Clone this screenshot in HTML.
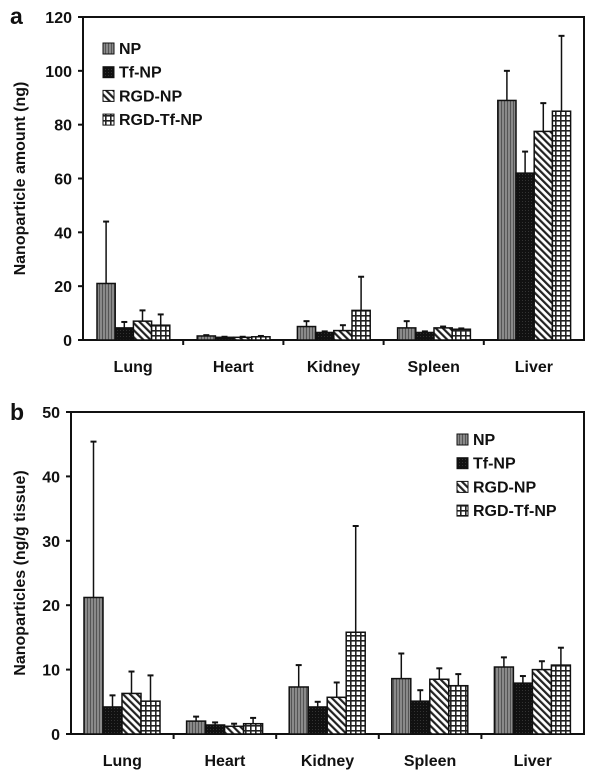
<!DOCTYPE html>
<html><head><meta charset="utf-8"><style>
body{margin:0;background:#fff}
svg text{font-family:"Liberation Sans",Arial,sans-serif;font-weight:bold;fill:#111}
</style></head><body>
<svg id="chart" width="600" height="777" xmlns="http://www.w3.org/2000/svg">
<defs>
<pattern id="pNP" width="3" height="4" patternUnits="userSpaceOnUse"><rect width="3" height="4" fill="#8a8a8a"/><rect width="1" height="4" fill="#555"/></pattern>
<pattern id="pTf" width="3" height="3" patternUnits="userSpaceOnUse"><rect width="3" height="3" fill="#111"/><rect width="1" height="1" fill="#333"/></pattern>
<pattern id="pRGD" width="5" height="5" patternUnits="userSpaceOnUse" patternTransform="rotate(-45)"><rect width="5" height="5" fill="#fff"/><rect width="2.2" height="5" fill="#222"/></pattern>
<pattern id="pRT" width="5" height="5" patternUnits="userSpaceOnUse"><rect width="5" height="5" fill="#fff"/><rect width="5" height="1.6" fill="#222"/><rect width="1.6" height="5" fill="#222"/></pattern>
</defs>
<g id="pa"></g><g id="pb"></g>
</svg>
<script>
const categories=["Lung","Heart","Kidney","Spleen","Liver"];
const seriesNames=["NP","Tf-NP","RGD-NP","RGD-Tf-NP"];
const aNP=[21,1.5,5,4.5,89];
const aTf=[4.5,1,2.8,2.8,62];
const aRGD=[7,1,3.5,4.5,77.5];
const aRT=[5.5,1.2,11,4,85];
const aNPerr=[44,1.8,7,7,100];
const aTferr=[6.7,1.2,3.2,3.2,70];
const aRGDerr=[11,1.2,5.5,5,88];
const aRTerr=[9.5,1.5,23.5,4.3,113];
const bNP=[21.2,2,7.3,8.6,10.4];
const bTf=[4.2,1.4,4.2,5.1,7.9];
const bRGD=[6.3,1.2,5.7,8.5,10];
const bRT=[5.1,1.6,15.8,7.5,10.7];
const bNPerr=[45.4,2.7,10.7,12.5,11.9];
const bTferr=[6,1.8,5,6.8,9];
const bRGDerr=[9.7,1.6,8,10.2,11.3];
const bRTerr=[9.1,2.5,32.3,9.3,13.4];
const aTicks=[0,20,40,60,80,100,120];
const bTicks=[0,10,20,30,40,50];
const fills=["url(#pNP)","url(#pTf)","url(#pRGD)","url(#pRT)"];
const NS="http://www.w3.org/2000/svg";
function mk(parent,tag,attrs){const e=document.createElementNS(NS,tag);for(const k in attrs)e.setAttribute(k,attrs[k]);parent.appendChild(e);return e;}
function panel(g,cfg){
  const {x0,x1,yTop,yBot,max,ticks,series,errs,off,bw,tickX,title,titleX,letter,letterY,labelY,legX,legY,name}=cfg;
  const y=v=>yBot-(v/max)*(yBot-yTop);
  const gw=(x1-x0)/categories.length;
  const frame=mk(g,'rect',{x:x0,y:yTop,width:x1-x0,height:yBot-yTop,fill:'none',stroke:'#111','stroke-width':2});
  
  
  ticks.forEach(t=>{
    const l=mk(g,'line',{x1:x0-5,x2:x0,y1:y(t),y2:y(t),stroke:'#111','stroke-width':2});
    
    
    const tx=mk(g,'text',{x:tickX,y:y(t)+6,'text-anchor':'end','font-size':16});
    tx.textContent=t;
    
    
  });
  categories.forEach((c,i)=>{
    if(i>0){const l=mk(g,'line',{x1:x0+gw*i,x2:x0+gw*i,y1:yBot,y2:yBot+5,stroke:'#111','stroke-width':2});
      
      }
    const t=mk(g,'text',{x:x0+gw*i+gw/2,y:labelY,'text-anchor':'middle','font-size':16});
    t.textContent=c;
    
    
    series.forEach((s,j)=>{
      const bx=x0+gw*i+off+bw*j, cx=bx+bw/2;
      const e=errs[j][i];
      const el=mk(g,'line',{x1:cx,x2:cx,y1:y(s[i]),y2:y(e),stroke:'#111','stroke-width':1.5});
      
      
      const ec=mk(g,'line',{x1:cx-3,x2:cx+3,y1:y(e),y2:y(e),stroke:'#111','stroke-width':2});
      
      
      const r=mk(g,'rect',{x:bx,y:y(s[i]),width:bw,height:yBot-y(s[i]),fill:fills[j],stroke:'#111','stroke-width':1.5});
      
      
    });
  });
  const tt=mk(g,'text',{x:titleX,y:(yTop+yBot)/2,'text-anchor':'middle','font-size':16,transform:`rotate(-90 ${titleX} ${(yTop+yBot)/2})`});
  tt.textContent=title;
  
  
  const lt=mk(g,'text',{x:10,y:letterY,'font-size':23});
  lt.textContent=letter;
  
  
  seriesNames.forEach((n,j)=>{
    const ly=legY+j*23.7;
    const sq=mk(g,'rect',{x:legX,y:ly-11,width:11,height:11,fill:fills[j],stroke:'#111','stroke-width':1});
    
    
    const lx=mk(g,'text',{x:legX+16,y:ly,'font-size':16});
    lx.textContent=n;
    
    
  });
}
panel(document.getElementById('pa'),{x0:83,x1:584,yTop:17,yBot:340,max:120,ticks:aTicks,
  series:[aNP,aTf,aRGD,aRT],errs:[aNPerr,aTferr,aRGDerr,aRTerr],off:14,bw:18.2,tickX:72,
  title:"Nanoparticle amount (ng)",titleX:25,letter:"a",letterY:24,labelY:372,legX:103,legY:54,name:"panel-a"});
panel(document.getElementById('pb'),{x0:71,x1:584,yTop:412,yBot:734,max:50,ticks:bTicks,
  series:[bNP,bTf,bRGD,bRT],errs:[bNPerr,bTferr,bRGDerr,bRTerr],off:13,bw:19,tickX:60,
  title:"Nanoparticles (ng/g tissue)",titleX:25,letter:"b",letterY:420,labelY:766,legX:457,legY:445,name:"panel-b"});
</script>
</body></html>
